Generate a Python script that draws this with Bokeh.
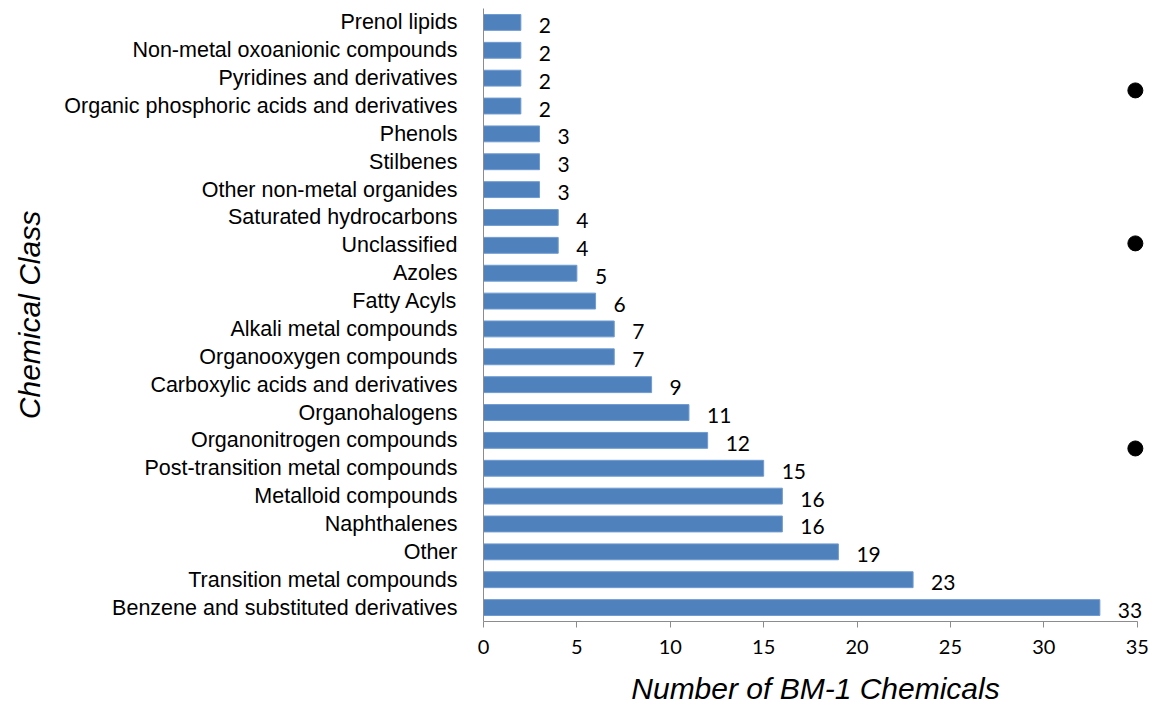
from bokeh.plotting import figure
from bokeh.models import ColumnDataSource, FixedTicker, Range1d
from bokeh.core.properties import value
from bokeh.embed import file_html
from bokeh.resources import INLINE

# Chemical classes, listed from the bottom bar to the top bar
classes = [
    "Benzene and substituted derivatives",
    "Transition metal compounds",
    "Other",
    "Naphthalenes",
    "Metalloid compounds",
    "Post-transition metal compounds",
    "Organonitrogen compounds",
    "Organohalogens",
    "Carboxylic acids and derivatives",
    "Organooxygen compounds",
    "Alkali metal compounds",
    "Fatty Acyls",
    "Azoles",
    "Unclassified",
    "Saturated hydrocarbons",
    "Other non-metal organides",
    "Stilbenes",
    "Phenols",
    "Organic phosphoric acids and derivatives",
    "Pyridines and derivatives",
    "Non-metal oxoanionic compounds",
    "Prenol lipids",
]
counts = [33, 23, 19, 16, 16, 15, 12, 11, 9, 7, 7, 6, 5, 4, 4, 3, 3, 3, 2, 2, 2, 2]

# Stray markers at the right edge
marker_x = [34.9, 34.9, 34.9]
marker_y = [18.56, 13.07, 5.71]

x_ticks = [0, 5, 10, 15, 20, 25, 30, 35]

pos = list(range(len(classes)))
src = ColumnDataSource(dict(
    y=pos,
    count=counts,
    label=[str(c) for c in counts],
))

NUM_FONT = "Lato"
CAT_FONT = "Liberation Sans"

p = figure(
    width=1157, height=708,
    x_range=Range1d(0, 35.55), y_range=Range1d(-0.5, len(classes) - 0.5),
    output_backend="svg", toolbar_location=None,
    min_border_left=483, min_border_right=10,
    min_border_top=8, min_border_bottom=87,
)
p.outline_line_color = None
p.grid.grid_line_color = None
p.background_fill_color = "white"

p.hbar(y="y", right="count", left=0, height=0.57, source=src,
       fill_color="#4F81BD", line_color="#6f9bd0", line_width=1)

p.text(x="count", y="y", text="label", source=src,
       x_offset=18, y_offset=3,
       text_font=value(NUM_FONT), text_font_size="21px", text_color="black",
       text_align="left", text_baseline="middle")

p.scatter(x=marker_x, y=marker_y, size=15, color="black", marker="circle")

# x axis
xa = p.xaxis[0]
xa.ticker = FixedTicker(ticks=x_ticks)
xa.bounds = (0, 35)
xa.axis_line_color = "#8c8c8c"
xa.major_tick_line_color = "#8c8c8c"
xa.major_tick_in = 0
xa.major_tick_out = 6
xa.minor_tick_line_color = None
xa.major_label_text_font = NUM_FONT
xa.major_label_text_font_size = "20px"
xa.major_label_text_color = "black"
xa.major_label_standoff = 12
xa.axis_label = "Number of BM-1 Chemicals"
xa.axis_label_text_font = "Liberation Sans"
xa.axis_label_text_font_style = "italic"
xa.axis_label_text_font_size = "30px"
xa.axis_label_text_color = "black"
xa.axis_label_standoff = 15

# y axis with class names
ya = p.yaxis[0]
ya.ticker = FixedTicker(ticks=pos)
ya.major_label_overrides = {i: c for i, c in enumerate(classes)}
ya.axis_line_color = "#8c8c8c"
ya.major_tick_line_color = None
ya.minor_tick_line_color = None
ya.major_label_text_font = CAT_FONT
ya.major_label_text_font_size = "21.5px"
ya.major_label_text_color = "black"
ya.major_label_standoff = 20
ya.axis_label = "Chemical Class"
ya.axis_label_text_font = "Liberation Sans"
ya.axis_label_text_font_style = "italic"
ya.axis_label_text_font_size = "30px"
ya.axis_label_text_color = "black"
ya.axis_label_standoff = 15

open("out.html", "w").write(file_html(p, INLINE))
